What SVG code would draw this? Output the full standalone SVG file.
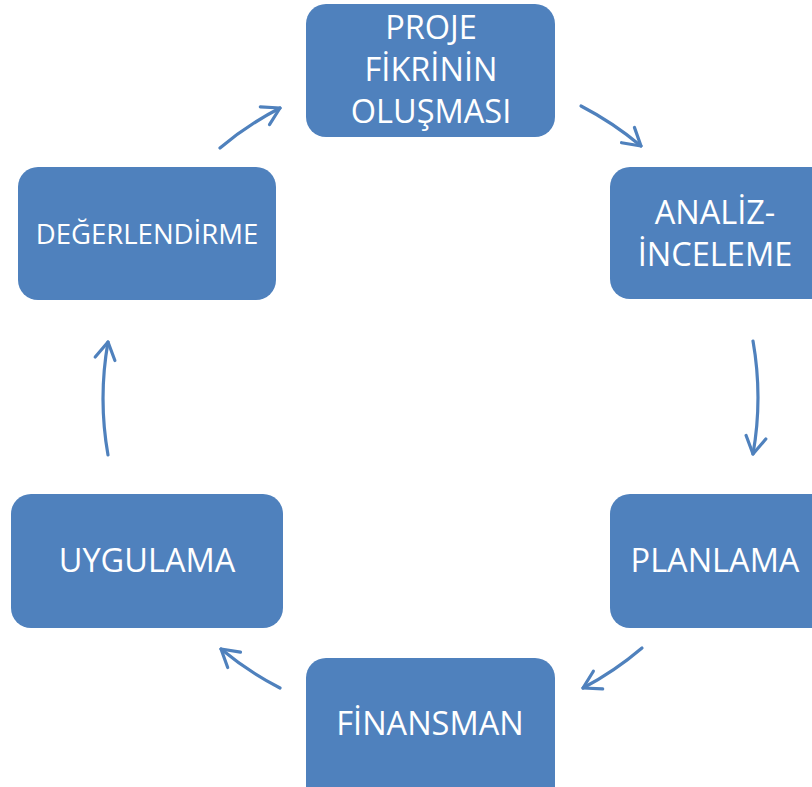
<svg xmlns="http://www.w3.org/2000/svg" width="812" height="787" viewBox="0 0 812 787">
<defs>
<style>
.box{fill:#4F81BD;}
.t{fill:#FFFFFF;font-family:"Open Sans","Liberation Sans",sans-serif;font-size:32.5px;text-anchor:middle;}
.ts{font-size:27.5px;}
.arr{fill:none;stroke:#4F81BD;stroke-width:3.2;stroke-linecap:round;marker-end:url(#ah);}
</style>
<marker id="ah" markerUnits="userSpaceOnUse" markerWidth="40" markerHeight="40" refX="0" refY="0" viewBox="-20 -20 40 40" orient="auto" overflow="visible">
<path d="M -17 -10 L 0 0 L -17 10" fill="none" stroke="#4F81BD" stroke-width="3.2" stroke-linecap="round" stroke-linejoin="round"/>
</marker>
</defs>
<rect width="812" height="787" fill="#FFFFFF"/>
<g id="node-proje">
<rect class="box" x="306" y="4" width="249" height="133" rx="20"/>
<text class="t" x="431" y="39">PROJE</text>
<text class="t" x="431" y="81">FİKRİNİN</text>
<text class="t" x="431" y="123">OLUŞMASI</text>
</g>
<g id="node-analiz">
<rect class="box" x="610" y="167" width="222" height="132" rx="20"/>
<text class="t" x="715" y="224">ANALİZ-</text>
<text class="t" x="715" y="266">İNCELEME</text>
</g>
<g id="node-planlama">
<rect class="box" x="610" y="494" width="222" height="134" rx="20"/>
<text class="t" x="715" y="572">PLANLAMA</text>
</g>
<g id="node-finansman">
<rect class="box" x="306" y="658" width="249" height="150" rx="20"/>
<text class="t" x="430" y="735">FİNANSMAN</text>
</g>
<g id="node-uygulama">
<rect class="box" x="11" y="494" width="272" height="134" rx="20"/>
<text class="t" x="147" y="572">UYGULAMA</text>
</g>
<g id="node-degerlendirme">
<rect class="box" x="18" y="167" width="258" height="133" rx="20"/>
<text class="t ts" x="147" y="244">DEĞERLENDİRME</text>
</g>
<g id="connectors">
<path class="arr" d="M 220 148 A 325 325 0 0 1 280 108"/>
<path class="arr" d="M 581 106 A 325 325 0 0 1 641 146"/>
<path class="arr" d="M 753 341 A 325 325 0 0 1 753 454"/>
<path class="arr" d="M 642 648 A 325 325 0 0 1 583 688"/>
<path class="arr" d="M 280 688 A 325 325 0 0 1 221 649"/>
<path class="arr" d="M 108 455 A 325 325 0 0 1 108 342"/>
</g>
</svg>
